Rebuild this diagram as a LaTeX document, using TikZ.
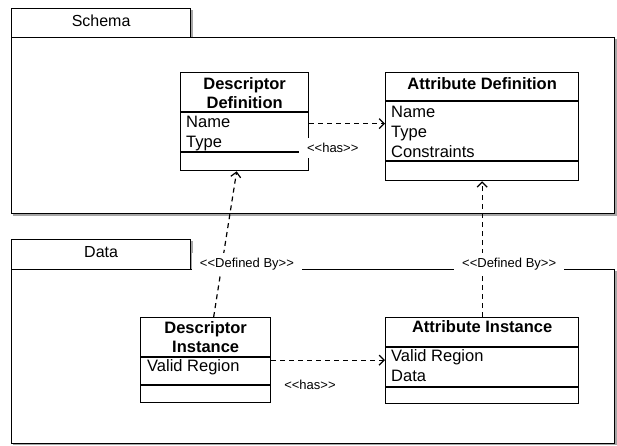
\documentclass[tikz,border=0pt]{standalone}
\usepackage{fontspec}
\setmainfont{Liberation Sans}
\usetikzlibrary{arrows.meta,calc}
\begin{document}
\begin{tikzpicture}[x=1pt,y=-1pt,
  pkg/.style={draw=black, line width=1.2pt, fill=white, inner sep=0pt, anchor=north west},
  pkgname/.style={font=\fontsize{16}{19}\selectfont, inner sep=0pt},
  shad/.style={fill=black!35, draw=none},
  cls/.style={draw=black, line width=1.3pt, fill=white, inner sep=0pt, anchor=north west},
  ttl/.style={font=\fontsize{16.5}{19.5}\selectfont\bfseries, align=center, inner sep=0pt},
  attr/.style={font=\fontsize{16.5}{19}\selectfont, anchor=west, inner sep=0pt, text height=12pt, text depth=3.5pt},
  lbl/.style={font=\fontsize{13}{15}\selectfont, fill=white, inner xsep=8pt, inner ysep=5pt},
  dep/.style={draw=black, line width=1.2pt, dash pattern=on 5pt off 4pt,
    -{Straight Barb[length=5pt,width=10pt,line width=1.2pt]}},
  divl/.style={draw=black, line width=1.3pt}
]
\useasboundingbox (0,0) rectangle (617,445);
\fill[white] (0,0) rectangle (617,445);

% shadows
\fill[shad] (13,10) rectangle (192.5,39);
\fill[shad] (13,39) rectangle (617,215.5);
\fill[shad] (13,241) rectangle (192.5,271);
\fill[shad] (13,271) rectangle (617,445);

% Schema package
\node[pkg, minimum width=179pt, minimum height=29pt] (stab) at (11,8) {};
\node[pkg, minimum width=603pt, minimum height=176pt] (sbody) at (11,37) {};
\node[pkgname] (sname) at ($(stab.center)+(0,-2)$) {Schema};

% Data package
\node[pkg, minimum width=179pt, minimum height=30pt] (dtab) at (11,239) {};
\node[pkg, minimum width=603pt, minimum height=174pt] (dbody) at (11,269) {};
\node[pkgname] (dname) at ($(dtab.center)+(0,-3)$) {Data};

% Descriptor Definition
\node[cls, minimum width=128pt, minimum height=98pt] (dd) at (180,72) {};
\draw[divl] ($(dd.north west)+(0,40)$) -- ($(dd.north east)+(0,40)$);
\draw[divl] ($(dd.north west)+(0,80)$) -- ($(dd.north east)+(0,80)$);
\node[ttl] (ddt) at ($(dd.north)+(0,21)$) {Descriptor\\Definition};
\node[attr] (dd1) at ($(dd.north west)+(6,51)$) {Name};
\node[attr] (dd2) at ($(dd.north west)+(6,71)$) {Type};

% Attribute Definition
\node[cls, minimum width=193pt, minimum height=108pt] (ad) at (385,72) {};
\draw[divl] ($(ad.north west)+(0,29)$) -- ($(ad.north east)+(0,29)$);
\draw[divl] ($(ad.north west)+(0,89)$) -- ($(ad.north east)+(0,89)$);
\node[ttl] (adt) at ($(ad.north)+(0,12)$) {Attribute Definition};
\node[attr] (ad1) at ($(ad.north west)+(6,41)$) {Name};
\node[attr] (ad2) at ($(ad.north west)+(6,61)$) {Type};
\node[attr] (ad3) at ($(ad.north west)+(6,81)$) {Constraints};

% Descriptor Instance
\node[cls, minimum width=130pt, minimum height=85pt] (di) at (140,317) {};
\draw[divl] ($(di.north west)+(0,40)$) -- ($(di.north east)+(0,40)$);
\draw[divl] ($(di.north west)+(0,68)$) -- ($(di.north east)+(0,68)$);
\node[ttl] (dit) at ($(di.north)+(0,20)$) {Descriptor\\Instance};
\node[attr] (di1) at ($(di.north west)+(7,50)$) {Valid Region};

% Attribute Instance
\node[cls, minimum width=193pt, minimum height=86pt] (ai) at (385,317) {};
\draw[divl] ($(ai.north west)+(0,30)$) -- ($(ai.north east)+(0,30)$);
\draw[divl] ($(ai.north west)+(0,70)$) -- ($(ai.north east)+(0,70)$);
\node[ttl] (ait) at ($(ai.north)+(0,10)$) {Attribute Instance};
\node[attr] (ai1) at ($(ai.north west)+(6,40)$) {Valid Region};
\node[attr] (ai2) at ($(ai.north west)+(6,60)$) {Data};

% connectors
\draw[dep] ($(dd.east)+(0,2)$) -- ($(dd.east -| ad.west)+(0,2)$)
  node[lbl, pos=0.31, below=14pt] {<{}<has>{}>};
\draw[dep] (di.east) -- (di.east -| ai.west)
  node[lbl, fill=none, pos=0.34, below=14pt] {<{}<has>{}>};
\draw[dep] ($(di.north)+(8,0)$) -- ($(dd.south)+(-8,0)$)
  node[lbl, pos=0.36, xshift=25pt] {<{}<Defined By>{}>};
\draw[dep] (ai.north) -- (ad.south)
  node[lbl, pos=0.387, xshift=27pt] {<{}<Defined By>{}>};
\end{tikzpicture}
\end{document}
